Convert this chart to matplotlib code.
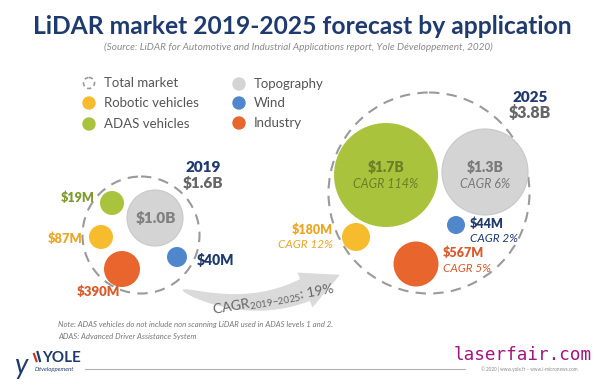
import numpy as np
import matplotlib
matplotlib.use('Agg')
import matplotlib.pyplot as plt
from matplotlib.patches import Circle, Polygon

plt.rcParams['font.family'] = ['Lato', 'DejaVu Sans']
plt.rcParams['mathtext.fontset'] = 'custom'
plt.rcParams['mathtext.rm'] = 'Lato'

# data
segments = ['Topography', 'Wind', 'Industry', 'Robotic vehicles', 'ADAS vehicles']
value_2019 = ['$1.0B', '$40M', '$390M', '$87M', '$19M']
value_2025 = ['$1.3B', '$44M', '$567M', '$180M', '$1.7B']
cagr = ['6%', '2%', '5%', '12%', '114%']
total_2019 = '$1.6B'
total_2025 = '$3.8B'
cagr_total = '19%'

colors = {'Topography': '#d4d4d4', 'Wind': '#4f86cc', 'Industry': '#e8652e',
          'Robotic vehicles': '#f7bb2e', 'ADAS vehicles': '#a9c43c'}
txt_colors = {'Topography': '#7a7a7a', 'Wind': '#1f3a6e', 'Industry': '#d95a2b',
              'Robotic vehicles': '#eba624', 'ADAS vehicles': '#7d9a2c'}
navy = '#1f3a6e'
HW = 'heavy'

# layout (pixel coords): centre x, centre y, radius
lay19 = {'Topography': (155, 218, 28), 'Wind': (177, 257, 10), 'Industry': (122, 269, 18),
         'Robotic vehicles': (101, 237, 12), 'ADAS vehicles': (112, 203, 12)}
lay25 = {'Topography': (485, 172, 43), 'Wind': (456, 225, 9), 'Industry': (416, 264, 22.5),
         'Robotic vehicles': (356, 237, 14), 'ADAS vehicles': (386, 175, 52)}

fig = plt.figure(figsize=(6, 3.87), dpi=100)
ax = fig.add_axes([0, 0, 1, 1])
ax.set_xlim(0, 600)
ax.set_ylim(387, 0)
ax.axis('off')

ax.text(302, 27, 'LiDAR market 2019-2025 forecast by application', ha='center', va='center',
        fontsize=17.7, fontweight='bold', color=navy)
ax.text(298, 47, '(Source: LiDAR for Automotive and Industrial Applications report, Yole Développement, 2020)',
        ha='center', va='center', fontsize=7.2, style='italic', color='#8a8a8a')

# legend
ax.add_patch(Circle((89, 83), 5.5, fill=False, ec='#999999', lw=1.2, ls=(0, (2.5, 2))))
ax.text(104, 83, 'Total market', va='center', fontsize=9.5, color='#555555')
leg = [('Robotic vehicles', 89, 103), ('ADAS vehicles', 89, 124),
       ('Topography', 239, 84), ('Wind', 239, 103), ('Industry', 239, 123)]
for name, lx, ly in leg:
    ax.add_patch(Circle((lx, ly), 6, color=colors[name]))
    ax.text(lx + 15, ly, name, va='center', fontsize=9.5, color='#555555')

dash = (0, (5, 3.5))
# 2019
ax.add_patch(Circle((141, 235), 58.5, fill=False, ec='#9a9a9a', lw=1.5, ls=dash))
for name in segments:
    x, y, r = lay19[name]
    ec = '#c8c8c8' if name == 'Topography' else 'none'
    ax.add_patch(Circle((x, y), r, fc=colors[name], ec=ec, lw=0.8))
v19 = dict(zip(segments, value_2019))
ax.text(156, 218, v19['Topography'], ha='center', va='center', fontsize=11, fontweight=HW, color='#808080')
ax.text(95, 198, v19['ADAS vehicles'], ha='right', va='center', fontsize=9, fontweight=HW, color=txt_colors['ADAS vehicles'])
ax.text(82, 239, v19['Robotic vehicles'], ha='right', va='center', fontsize=9.3, fontweight=HW, color=txt_colors['Robotic vehicles'])
ax.text(77, 292, v19['Industry'], ha='left', va='center', fontsize=9.5, fontweight=HW, color=txt_colors['Industry'])
ax.text(197, 260, v19['Wind'], ha='left', va='center', fontsize=10, fontweight=HW, color=txt_colors['Wind'])
ax.text(203, 167, '2019', ha='center', va='center', fontsize=11, fontweight=HW, color=navy)
ax.text(203, 183, total_2019, ha='center', va='center', fontsize=11, fontweight=HW, color='#666666')

# 2025
ax.add_patch(Circle((429, 193), 100.5, fill=False, ec='#9a9a9a', lw=1.5, ls=dash))
for name in segments:
    x, y, r = lay25[name]
    ec = '#c8c8c8' if name == 'Topography' else 'none'
    ax.add_patch(Circle((x, y), r, fc=colors[name], ec=ec, lw=0.8))
v25 = dict(zip(segments, value_2025))
cg = dict(zip(segments, cagr))
ax.text(386, 167, v25['ADAS vehicles'], ha='center', va='center', fontsize=10, fontweight=HW, color='#6b7f26')
ax.text(386, 184, 'CAGR ' + cg['ADAS vehicles'], ha='center', va='center', fontsize=9, style='italic', color='#6b7f26')
ax.text(485, 167, v25['Topography'], ha='center', va='center', fontsize=10, fontweight=HW, color='#7a7a7a')
ax.text(485, 184, 'CAGR ' + cg['Topography'], ha='center', va='center', fontsize=9, style='italic', color='#7a7a7a')
ax.text(333, 230, v25['Robotic vehicles'], ha='right', va='center', fontsize=9, fontweight=HW, color=txt_colors['Robotic vehicles'])
ax.text(333, 245, 'CAGR ' + cg['Robotic vehicles'], ha='right', va='center', fontsize=8.5, style='italic', color=txt_colors['Robotic vehicles'])
ax.text(470, 224, v25['Wind'], ha='left', va='center', fontsize=9, fontweight=HW, color=txt_colors['Wind'])
ax.text(470, 238, 'CAGR ' + cg['Wind'], ha='left', va='center', fontsize=8.5, style='italic', color=txt_colors['Wind'])
ax.text(443, 253, v25['Industry'], ha='left', va='center', fontsize=9, fontweight=HW, color=txt_colors['Industry'])
ax.text(443, 268, 'CAGR ' + cg['Industry'], ha='left', va='center', fontsize=8.5, style='italic', color=txt_colors['Industry'])
ax.text(530, 98, '2025', ha='center', va='center', fontsize=11, fontweight=HW, color=navy)
ax.text(530, 113, total_2025, ha='center', va='center', fontsize=11.5, fontweight=HW, color='#666666')

# curved arrow
t = np.linspace(0, 1, 80)
p0, p1, p2 = np.array([183, 290]), np.array([250, 314]), np.array([305, 290])
c = ((1 - t) ** 2)[:, None] * p0 + (2 * (1 - t) * t)[:, None] * p1 + (t ** 2)[:, None] * p2
d = (2 * (1 - t))[:, None] * (p1 - p0) + (2 * t)[:, None] * (p2 - p1)
d = d / np.linalg.norm(d, axis=1)[:, None]
n = np.column_stack([-d[:, 1], d[:, 0]])
w = 0.5 + 11.5 * t ** 0.55
upper = c - n * w[:, None]
lower = c + n * w[:, None]
tip = p2 + 38 * d[-1]
hb1 = p2 - 19 * n[-1]
hb2 = p2 + 19 * n[-1]
poly = np.vstack([upper, hb1, tip, hb2, lower[::-1]])
ax.add_patch(Polygon(poly, closed=True, fc='#dadada', ec='none'))
ax.text(274, 300, 'CAGR$_{\\mathregular{2019{-}2025}}$: ' + cagr_total, ha='center', va='center',
        rotation=10, fontsize=10, color='#666666')

# notes
ax.text(58, 325, 'Note: ADAS vehicles do not include non scanning LiDAR used in ADAS levels 1 and 2.',
        fontsize=5.6, style='italic', color='#777777', va='center')
ax.text(58, 337, 'ADAS: Advanced Driver Assistance System',
        fontsize=5.6, style='italic', color='#777777', va='center')

# footer
ax.text(42, 358, 'YOLE', fontsize=11, fontweight='bold', color=navy, va='center')
ax.text(35, 369, 'Développement', fontsize=4.3, style='italic', color=navy, va='center')
ax.plot([34, 36.5], [354, 361], color='#c0392b', lw=1.6)
ax.plot([37.5, 40], [352, 361], color=navy, lw=1.6)
ax.text(22, 366, 'y', fontsize=20, color=navy, va='center', ha='center', style='italic')
ax.plot([85, 465], [369, 369], color='#b0b0b0', lw=0.8)
ax.text(523, 355, 'laserfair.com', ha='center', va='center', fontsize=12.7,
        family='DejaVu Sans Mono', color='#a0187f')
ax.text(529, 369, '© 2020 | www.yole.fr – www.i-micronews.com', ha='center', va='center',
        fontsize=3.3, color='#888888')

fig.savefig('out.png', dpi=100)
